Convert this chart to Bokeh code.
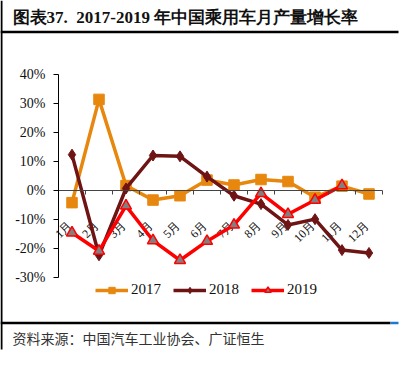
import math
from bokeh.plotting import figure
from bokeh.models import (Range1d, LinearAxis, FixedTicker, Legend, LegendItem, Label)
from bokeh.core.properties import value
from bokeh.embed import file_html
from bokeh.resources import INLINE

# ---------------- data ----------------
months = ["1月", "2月", "3月", "4月", "5月", "6月", "7月", "8月", "9月", "10月", "11月", "12月"]
series_names = ["2017", "2018", "2019"]
y2017 = [-4.3, 31.4, 1.6, -3.4, -1.9, 3.5, 1.8, 3.7, 3.0, -2.4, 1.4, -1.3]
y2018 = [12.3, -22.5, 0.6, 12.0, 11.7, 4.7, -1.9, -4.8, -12.0, -10.0, -20.7, -21.7]
y2019 = [-14.7, -21.0, -5.4, -17.4, -24.2, -17.6, -12.0, -1.1, -8.3, -3.4, 1.6]
y_ticks = [-30, -20, -10, 0, 10, 20, 30, 40]
y_tick_labels = ["-30%", "-20%", "-10%", "0%", "10%", "20%", "30%", "40%"]
title_text = "图表37.\u20022017-2019 年中国乘用车月产量增长率"
source_text = "资料来源：中国汽车工业协会、广证恒生"

# ---------------- layout (canvas pixels) ----------------
W, H = 400, 360
PL, PR, PT, PB = 58, 382, 74, 276.5
ppx = (PR - PL) / 12.0
ppy = (PB - PT) / 70.0

def dx(px):
    return (px - PL) / ppx

def dy(py):
    return 40 - (py - PT) / ppy

p = figure(width=W, height=H, x_range=Range1d(dx(0), dx(W)), y_range=Range1d(dy(H), dy(0)),
           output_backend="svg", toolbar_location=None, min_border=0,
           x_axis_type=None, y_axis_type=None)
p.outline_line_color = None
p.background_fill_color = "white"
p.border_fill_color = "white"

# y axis
yaxis = LinearAxis(fixed_location=0, bounds=(-30, 40), ticker=FixedTicker(ticks=y_ticks),
                   major_label_overrides={t: l for t, l in zip(y_ticks, y_tick_labels)})
yaxis.major_tick_out = 5
yaxis.major_tick_in = 0
yaxis.minor_tick_out = 0
yaxis.minor_tick_in = 0
yaxis.axis_line_color = "black"
yaxis.major_tick_line_color = "black"
yaxis.major_label_text_font = "Liberation Serif"
yaxis.major_label_text_font_size = "14px"
yaxis.major_label_text_color = "#111111"
yaxis.major_label_standoff = 8
p.add_layout(yaxis, "left")

# x axis: line at 0 with tick marks at category boundaries
xticks_axis = LinearAxis(fixed_location=0, bounds=(0, 12), ticker=FixedTicker(ticks=list(range(13))),
                         major_label_overrides={k: "" for k in range(13)})
xticks_axis.major_tick_out = 4
xticks_axis.major_tick_in = 0
xticks_axis.minor_tick_out = 0
xticks_axis.minor_tick_in = 0
xticks_axis.axis_line_color = "#444444"
xticks_axis.major_tick_line_color = "#444444"
p.add_layout(xticks_axis, "below")

# month labels: slanted (reading upwards), ending below the zero line
centres = [i + 0.5 for i in range(12)]
axis_px = PT + 40 * ppy
lab_x, lab_y = [], []
for m, c in zip(months, centres):
    half = 0.7071 * (6 * (len(m) - 1) + 12) / 2.0   # half of the slanted label's extent
    lab_x.append(c + (-2 - half) / ppx)
    lab_y.append(dy(axis_px + 33 + half))
p.text(x=lab_x, y=lab_y, text=months, angle=math.pi / 4,
       text_align="center", text_baseline="middle",
       text_font=value("Liberation Serif"), text_font_size="12px", text_color="#111111")

# series
c17, c18, c19 = "#E8870E", "#6E1414", "#FF0000"
x17 = centres[:len(y2017)]
x18 = centres[:len(y2018)]
x19 = centres[:len(y2019)]
l17 = p.line(x17, y2017, line_color=c17, line_width=3.5)
s17 = p.scatter(x17, y2017, marker="square", size=10.5, fill_color=c17, line_color=c17)
l18 = p.line(x18, y2018, line_color=c18, line_width=3.5)
s18 = p.scatter(x18, y2018, marker="diamond", size=11, fill_color=c18, line_color=c18)
l19 = p.line(x19, y2019, line_color=c19, line_width=3.5)
s19 = p.scatter(x19, y2019, marker="triangle", size=11, fill_color="#808080", line_color=c19, line_width=1.5)

legend = Legend(items=[LegendItem(label=series_names[0], renderers=[l17, s17]),
                       LegendItem(label=series_names[1], renderers=[l18, s18]),
                       LegendItem(label=series_names[2], renderers=[l19, s19])],
                orientation="horizontal", location=(95, H - 298),
                glyph_width=33, glyph_height=16, label_height=16, label_standoff=3,
                spacing=12, padding=0, margin=0, border_line_color=None,
                background_fill_alpha=0, label_text_font="Liberation Serif",
                label_text_font_size="15px", label_text_color="#111111")
p.add_layout(legend)

# frame decorations
p.segment(x0=[dx(0)], y0=[dy(31.5)], x1=[dx(398)], y1=[dy(31.5)], line_color="black", line_width=2.5)
p.segment(x0=[dx(1)], y0=[dy(0)], x1=[dx(1)], y1=[dy(349)], line_color="black", line_width=2)
p.segment(x0=[dx(0)], y0=[dy(322.5)], x1=[dx(390)], y1=[dy(322.5)], line_color="black", line_width=2.5)
p.segment(x0=[dx(390)], y0=[dy(322.5)], x1=[dx(398)], y1=[dy(322.5)], line_color="#1F78D0", line_width=2.5)

p.add_layout(Label(x=dx(12), y=dy(17), text=title_text, text_baseline="middle",
                   text_font="Liberation Serif", text_font_style="bold",
                   text_font_size="17px", text_color="#111111"))
p.add_layout(Label(x=dx(12), y=dy(337), text=source_text, text_baseline="middle",
                   text_font="Noto Sans CJK SC", text_font_size="14px", text_color="#333333"))

open("out.html", "w").write(file_html(p, INLINE))
